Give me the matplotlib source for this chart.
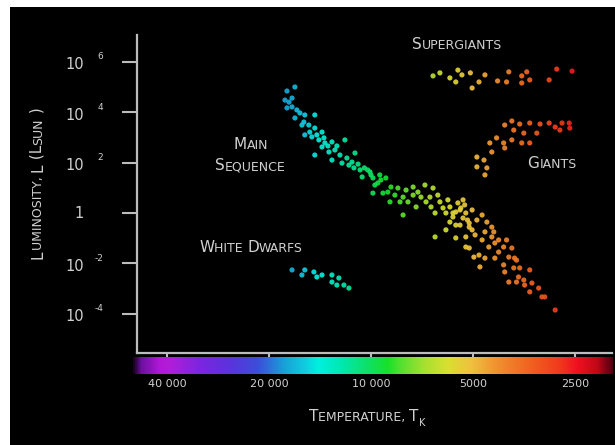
import numpy as np
import matplotlib
matplotlib.use("Agg")
import matplotlib.pyplot as plt
from matplotlib.colors import LinearSegmentedColormap, LogNorm
from matplotlib.patches import Rectangle
from matplotlib.text import Annotation
from matplotlib.ticker import NullLocator
import matplotlib.transforms as mtransforms

# ---------------- data (temperature in K, log10 luminosity in L_sun) ----------------
ms_temp = [16770, 17700, 17940, 17460, 17100, 17700, 17100, 16550, 16770, 16210,
           15680, 15780, 15260, 14650, 14650, 15680, 14950, 13950, 14250, 13680,
           13040, 11940, 14650, 13950, 13310, 12780, 12350, 11150, 13040, 12180,
           11620, 11230, 10770, 10070, 9870, 10620, 9420, 10230, 10000, 9740,
           9870, 9350, 9220, 8920, 8730, 8500, 8790, 8210, 8040, 7780,
           7510, 7510, 7360, 6930, 7120, 6880, 8040, 6700, 6560, 6650,
           6470, 6260, 6130, 6010, 5850, 5730, 5620, 5430, 5350, 6010,
           6470, 5620, 5350, 5190, 5130, 5460, 5250, 5730, 5460, 5850,
           5620, 5250, 5130, 4700, 5030, 4930, 5250, 4610, 4700, 4400,
           4490, 5130, 4800, 4400, 4310, 4200, 4610, 4060, 3920, 3840,
           3770, 4310, 4060, 4770, 4030, 3790, 3400, 3670, 3920, 3540,
           3720, 3350, 3520, 3200, 3400, 3130, 2860, 4970, 3070, 3640,
           3720, 15990, 15160, 14450, 13770, 13400, 12610, 11780, 11380, 10920,
           10460, 9550, 9040, 8330, 7880, 7270, 6350, 5930, 5540, 5290,
           5030, 4870, 4550, 4340, 4200, 3980]
ms_loglum = [5.00, 4.84, 4.48, 4.40, 4.56, 4.17, 4.21, 4.09, 3.77, 3.97,
             3.89, 3.61, 3.49, 3.89, 3.37, 3.10, 3.02, 3.21, 2.90, 2.78,
             2.82, 2.90, 2.30, 2.62, 2.42, 2.50, 2.30, 2.38, 2.10, 1.98,
             1.90, 1.79, 1.71, 1.63, 1.39, 1.43, 1.51, 1.71, 1.51, 1.11,
             0.79, 1.31, 0.79, 0.83, 1.03, 0.71, 0.44, 0.44, 0.63, 0.44,
             1.03, 0.71, 0.24, 1.11, 0.63, 0.44, -0.08, 0.63, 0.99, 0.24,
             0.00, 0.44, 0.20, 0.00, 0.24, -0.16, 0.04, 0.20, 0.52, -0.67,
             -0.95, -0.99, -0.20, -0.28, -0.56, -0.48, -1.35, 0.00, 0.12, -0.36,
             -0.48, 0.00, -0.40, -0.08, -0.67, -0.87, -0.95, -0.75, -1.07, -0.56,
             -1.35, -1.39, -1.67, -0.95, -1.19, -1.55, -1.79, -1.35, -1.75, -1.39,
             -1.79, -1.79, -2.06, -2.14, -2.34, -2.18, -2.26, -2.54, -2.74, -2.66,
             -2.74, -2.78, -2.86, -2.98, -3.13, -3.33, -3.85, -1.75, -3.33, -2.18,
             -1.87, 3.49, 3.21, 3.10, 2.98, 2.66, 2.66, 2.18, 2.02, 1.94,
             1.79, 1.19, 1.39, 0.99, 0.91, 0.83, 0.71, 0.52, 0.40, 0.32,
             0.12, -0.28, -0.36, -0.75, -1.07, -1.07]

giant_temp = [3840, 4030, 3640, 3400, 3170, 2980, 2860, 2730, 2600, 2590,
              2770, 3790, 3540, 3240, 4260, 3840, 4060, 3590, 3400, 4460,
              4030, 4400, 4870, 4640, 4870, 4550, 4610]
giant_loglum = [3.65, 3.49, 3.53, 3.57, 3.53, 3.57, 3.41, 3.57, 3.57, 3.37,
                3.29, 3.29, 3.17, 3.17, 2.98, 2.90, 2.78, 2.78, 2.78, 2.78,
                2.58, 2.42, 2.22, 2.10, 1.83, 1.79, 1.51]

superg_temp = [6560, 6260, 5850, 5540, 5390, 5620, 5090, 5030, 4800, 4610,
               4230, 3980, 3920, 3590, 3470, 3590, 3400, 2980, 2830, 2550]
superg_loglum = [5.44, 5.56, 5.36, 5.67, 5.48, 5.20, 5.56, 4.96, 5.20, 5.48,
                 5.24, 5.20, 5.60, 5.44, 5.60, 5.16, 5.28, 5.28, 5.71, 5.63]

wd_temp = [17100, 15990, 15680, 14740, 14450, 13950, 13040, 13040, 12440, 12610,
           12020, 11620]
wd_loglum = [-2.26, -2.46, -2.26, -2.34, -2.54, -2.46, -2.46, -2.74, -2.58, -2.86,
             -2.86, -2.98]

x_ticks = [40000, 20000, 10000, 5000, 2500]
x_tick_labels = ["40 000", "20 000", "10 000", "5000", "2500"]
y_exponents = [6, 4, 2, 0, -2, -4]

# ---------------- figure ----------------
W, H = 615, 445
TXT = "#d0d0d0"
AXC = "#bcbcbc"
fig = plt.figure(figsize=(W / 100, H / 100), dpi=100, facecolor="black")


def fx(px):
    return px / W


def fy(py):
    return 1 - py / H


# white screenshot margins
fig.patches.append(Rectangle((0, 0), fx(10), 1, transform=fig.transFigure,
                             facecolor="white", edgecolor="none", zorder=-5))
fig.patches.append(Rectangle((0, fy(7)), 1, 7 / H, transform=fig.transFigure,
                             facecolor="white", edgecolor="none", zorder=-5))

T_LEFT, T_RIGHT = 49040, 1944
ax = fig.add_axes([fx(137), fy(353), fx(612) - fx(137), fy(35) - fy(353)])
ax.set_facecolor("none")
ax.set_xscale("log")
ax.set_yscale("log")
ax.set_xlim(T_LEFT, T_RIGHT)
ax.set_ylim(10 ** -5.556, 10 ** 7.063)
for s in ["top", "right"]:
    ax.spines[s].set_visible(False)
for s in ["left", "bottom"]:
    ax.spines[s].set_color(AXC)
    ax.spines[s].set_linewidth(1.6)

ax.set_yticks([10.0 ** e for e in y_exponents])
ax.yaxis.set_minor_locator(NullLocator())
ax.tick_params(axis="y", length=11, width=1.5, color=AXC, labelleft=False)
ax.set_xticks(x_ticks, x_tick_labels)
ax.xaxis.set_minor_locator(NullLocator())
ax.tick_params(axis="x", length=3, width=1.5, color=AXC, labelcolor=TXT,
               labelsize=8, pad=15.5)

# colour scale (left = hot, right = cool)
nodes = [(0.000, "#1a0022"), (0.015, "#6a10a0"), (0.056, "#b418d8"), (0.077, "#b01ed8"),
         (0.140, "#7a26e0"), (0.202, "#5a34dc"), (0.260, "#3c4ed8"), (0.317, "#18a4d8"),
         (0.358, "#10cce0"), (0.385, "#00f0e0"), (0.435, "#00e8b0"), (0.494, "#10e060"),
         (0.531, "#18e028"), (0.556, "#50e030"), (0.608, "#a8e030"), (0.656, "#d8e030"),
         (0.706, "#f0c040"), (0.760, "#f09030"), (0.831, "#f06020"), (0.890, "#f03a1c"),
         (0.927, "#f01020"), (0.969, "#c00818"), (1.000, "#500010")]
cmap = LinearSegmentedColormap.from_list("hr", nodes)
T_BAR_LEFT, T_BAR_RIGHT = 50397, 1931
norm = LogNorm(vmin=T_BAR_RIGHT, vmax=T_BAR_LEFT)
cmap_T = cmap.reversed()

for temps, lums in [(ms_temp, ms_loglum), (giant_temp, giant_loglum),
                    (superg_temp, superg_loglum), (wd_temp, wd_loglum)]:
    t = np.array(temps, dtype=float)
    L = 10.0 ** np.array(lums)
    ax.scatter(t, L, c=t, cmap=cmap_T, norm=norm, s=14, marker="o",
               linewidths=0, alpha=0.92, zorder=3)

cax = fig.add_axes([fx(133), fy(374), fx(613) - fx(133), 17 / H])
cax.imshow(np.linspace(0, 1, 512)[None, :], aspect="auto", cmap=cmap,
           extent=[0, 1, 0, 1])
cax.set_axis_off()

# y tick labels
blend = mtransforms.blended_transform_factory(fig.transFigure, ax.transData)
for e in y_exponents:
    if e == 0:
        ax.annotate("1", xy=(fx(84), 1.0), xycoords=blend, xytext=(0, -1),
                    textcoords="offset pixels", ha="right", va="center",
                    fontsize=10.5, color=TXT, annotation_clip=False)
    else:
        ax.annotate("10", xy=(fx(84), 10.0 ** e), xycoords=blend, xytext=(0, -3),
                    textcoords="offset pixels", ha="right", va="center",
                    fontsize=10.5, color=TXT, annotation_clip=False)
        ax.annotate(str(e), xy=(fx(103), 10.0 ** e), xycoords=blend, xytext=(0, 5),
                    textcoords="offset pixels", ha="right", va="center",
                    fontsize=6.5, color=TXT, annotation_clip=False)

# small-caps labels
groups = []


def small_caps(pieces, cx, cy, rotated=False):
    txt0, size0, _ = pieces[0]
    if not rotated:
        t0 = fig.text(fx(cx), fy(cy), txt0, fontsize=size0, color=TXT,
                      ha="left", va="baseline")
    else:
        t0 = fig.text(fx(cx), fy(cy), txt0, fontsize=size0, color=TXT,
                      ha="right", va="bottom", rotation=90)
    arts = [t0]
    prev = t0
    for txt, size, dy in pieces[1:]:
        if not rotated:
            a = Annotation(txt, xy=(1, 0), xycoords=prev, xytext=(0, dy),
                           textcoords="offset pixels", ha="left", va="bottom",
                           fontsize=size, color=TXT)
        else:
            a = Annotation(txt, xy=(1, 1), xycoords=prev, xytext=(-dy, 0),
                           textcoords="offset pixels", ha="right", va="bottom",
                           fontsize=size, color=TXT, rotation=90)
        fig.add_artist(a)
        arts.append(a)
        prev = a
    groups.append((arts, cx, cy, rotated))


BIG, SMALL = 11, 9
small_caps([("S", BIG, 0), ("UPERGIANTS", SMALL, 0)], 457, 49)
small_caps([("M", BIG, 0), ("AIN", SMALL, 0)], 251, 149)
small_caps([("S", BIG, 0), ("EQUENCE", SMALL, 0)], 250, 170)
small_caps([("G", BIG, 0), ("IANTS", SMALL, 0)], 552, 168)
small_caps([("W", BIG, 0), ("HITE ", SMALL, 0), ("D", BIG, 0), ("WARFS", SMALL, 0)], 251, 252)
small_caps([("T", BIG, 0), ("EMPERATURE, ", SMALL, 0), ("T", BIG, 0), ("K", 7, -4)], 367, 421)
small_caps([("L", BIG, 0), ("UMINOSITY, ", SMALL, 0), ("L", BIG, 0), (" (L", BIG, 0),
            ("SUN", SMALL, 0), (" )", BIG, 0)], 45, 183, rotated=True)

fig.canvas.draw()
renderer = fig.canvas.get_renderer()
for arts, cx, cy, rotated in groups:
    bbs = [a.get_window_extent(renderer) for a in arts]
    x0 = min(b.x0 for b in bbs)
    x1 = max(b.x1 for b in bbs)
    y0 = min(b.y0 for b in bbs)
    y1 = max(b.y1 for b in bbs)
    px, py = arts[0].get_position()
    if not rotated:
        dx = cx - (x0 + x1) / 2
        arts[0].set_position((px + dx / W, py))
    else:
        dy = (H - cy) - (y0 + y1) / 2
        arts[0].set_position((px, py + dy / H))

fig.savefig("out.png", dpi=100, facecolor="black")
